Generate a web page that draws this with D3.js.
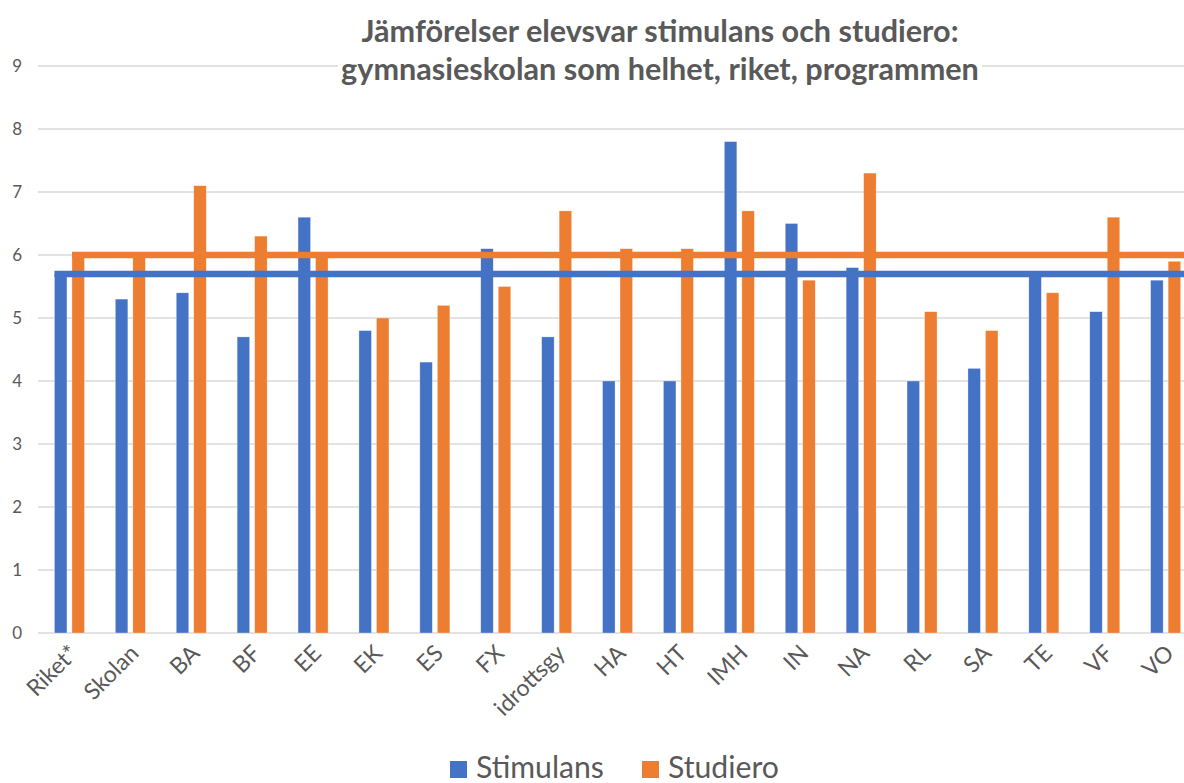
<!DOCTYPE html>
<html>
<head>
<meta charset="utf-8">
<script src="https://cdn.jsdelivr.net/npm/d3@7"></script>
<style>
  html, body { margin: 0; padding: 0; background: #fff; overflow: hidden; }
  svg { display: block; }
  text { font-family: Lato, "Open Sans", sans-serif; fill: #595959; }
</style>
</head>
<body>
<svg id="chart" width="1184" height="783"></svg>
<script>
// ---- data ----
const categories = ["Riket*", "Skolan", "BA", "BF", "EE", "EK", "ES", "FX", "idrottsgy", "HA", "HT", "IMH", "IN", "NA", "RL", "SA", "TE", "VF", "VO"];
const stimulans = [5.7, 5.3, 5.4, 4.7, 6.6, 4.8, 4.3, 6.1, 4.7, 4.0, 4.0, 7.8, 6.5, 5.8, 4.0, 4.2, 5.7, 5.1, 5.6];
const studiero  = [6.0, 6.0, 7.1, 6.3, 6.0, 5.0, 5.2, 5.5, 6.7, 6.1, 6.1, 6.7, 5.6, 7.3, 5.1, 4.8, 5.4, 6.6, 5.9];
const seriesNames = ["Stimulans", "Studiero"];
const referenceLevels = [5.7, 6.0];  // Riket levels drawn as horizontal lines
const yTicks = [0, 1, 2, 3, 4, 5, 6, 7, 8, 9];
const titleLines = ["Jämförelser elevsvar stimulans och studiero:", "gymnasieskolan som helhet, riket, programmen"];

const colors = { Stimulans: "#4472C4", Studiero: "#ED7D31" };
const seriesValues = { Stimulans: stimulans, Studiero: studiero };

const W = 1184, H = 783;
const svg = d3.select("#chart");

const plotLeft = 39, step = 60.9;
const plotRight = plotLeft + step * categories.length;
const y = d3.scaleLinear().domain([0, 9]).range([633, 66]);
const x = d3.scaleBand().domain(categories).range([plotLeft, plotRight]).padding(0);
const xs = d3.scaleBand().domain(seriesNames)
  .range([x.bandwidth() / 2 - 15, x.bandwidth() / 2 + 15]).paddingInner(0.286);

// gridlines
svg.append("g").selectAll("line").data(yTicks).join("line")
  .attr("x1", plotLeft - 1).attr("x2", W)
  .attr("y1", d => y(d)).attr("y2", d => y(d))
  .attr("stroke", "#d9d9d9").attr("stroke-width", 1.3);

// y axis labels
const yAxis = d3.axisLeft(y).tickValues(yTicks).tickSize(0).tickPadding(0);
const gy = svg.append("g").attr("transform", "translate(22,0)").call(yAxis);
gy.select(".domain").remove();
gy.selectAll("text").attr("font-size", 17).attr("font-family", "Lato, 'Open Sans', sans-serif").attr("fill", "#595959");

// bars
const groups = svg.append("g").selectAll("g").data(categories).join("g")
  .attr("transform", d => `translate(${x(d)},0)`);
groups.selectAll("rect").data((c, i) => seriesNames.map(s => ({ s, v: seriesValues[s][i] })))
  .join("rect")
  .attr("x", d => xs(d.s)).attr("width", xs.bandwidth())
  .attr("y", d => y(d.v)).attr("height", d => y(0) - y(d.v))
  .attr("fill", d => colors[d.s])
  .attr("stroke", "#ffffff").attr("stroke-opacity", 0.5).attr("stroke-width", 0.6);

// reference lines
svg.append("g").selectAll("line").data(seriesNames).join("line")
  .attr("x1", (s) => x(categories[0]) + xs(s))
  .attr("x2", plotRight)
  .attr("y1", (s, i) => y(referenceLevels[i]))
  .attr("y2", (s, i) => y(referenceLevels[i]))
  .attr("stroke", s => colors[s]).attr("stroke-width", 6.5);

// x labels
const xl = svg.append("g").selectAll("text").data(categories).join("text")
  .attr("text-anchor", "end")
  .attr("dy", "0.35em")
  .attr("transform", d => `translate(${x(d) + x.bandwidth() / 2 + 4},${649}) rotate(-45)`)
  .text(d => d);

function fitSize(sel, sample, target) {
  sel.attr("font-size", 20);
  const n = sel.filter(d => d === sample).node() || sel.node();
  const w = n.getComputedTextLength();
  sel.attr("font-size", 20 * target / w);
}
fitSize(xl, "Skolan", 66);

// title with white box behind
const titleG = svg.append("g");
const tbg = titleG.append("rect").attr("fill", "#fff");
const tt = titleG.selectAll("text").data(titleLines).join("text")
  .attr("x", 660).attr("y", (d, i) => i === 0 ? 42 : 80)
  .attr("text-anchor", "middle").attr("font-weight", 700)
  .text(d => d);
tt.attr("font-size", 20);
const w2 = tt.filter((d, i) => i === 1).node().getComputedTextLength();
tt.attr("font-size", 20 * 638 / w2);
tbg.attr("x", 660 - 322).attr("y", 10).attr("width", 644).attr("height", 84);

// legend
const leg = svg.append("g");
const legX = [450, 642];
seriesNames.forEach((s, i) => {
  leg.append("rect").attr("x", legX[i]).attr("y", 761).attr("width", 17).attr("height", 17).attr("fill", colors[s]);
  leg.append("text").attr("class", "lt").attr("x", legX[i] + 26).attr("y", 778).text(s);
});
const lt = leg.selectAll("text.lt");
lt.attr("font-size", 20);
const lw = lt.node().getComputedTextLength();
lt.attr("font-size", 20 * 128 / lw);
</script>
</body>
</html>
